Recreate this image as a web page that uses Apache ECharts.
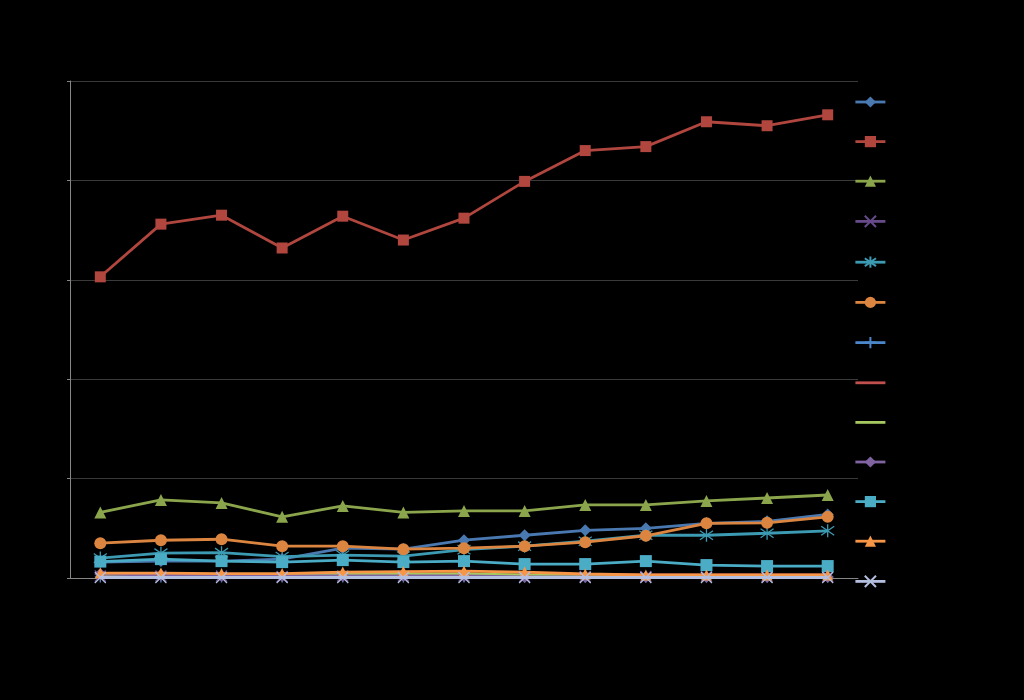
<!DOCTYPE html>
<html>
<head>
<meta charset="utf-8">
<script src="https://cdn.jsdelivr.net/npm/echarts@6/dist/echarts.min.js"></script>
<style>
html,body{margin:0;padding:0;background:#000;}
#chart{width:1024px;height:700px;}
</style>
</head>
<body>
<div id="chart"></div>
<script>
// Categories (labels are drawn in black on black in the reference, so they are not readable)
var categories = ['2000','2001','2002','2003','2004','2005','2006','2007','2008','2009','2010','2011','2012'];
var yTicks = [0, 100, 200, 300, 400, 500];

var seriesNames = ['Series 1','Series 2','Series 3','Series 4','Series 5','Series 6','Series 7','Series 8','Series 9','Series 10','Series 11','Series 12','Series 13'];

var s1  = [16, 17, 17, 19, 30, 29, 38, 43, 48, 50, 55, 57, 64];
var s2  = [303, 356, 365, 332, 364, 340, 362, 399, 430, 434, 459, 455, 466];
var s3  = [66, 78.5, 75.5, 61.5, 72.5, 66, 67.5, 67.5, 73.5, 73.5, 77.5, 80.5, 83.5];
var s4  = [2, 2, 2, 1.5, 2, 2, 2, 1.5, 1.5, 1.5, 1.5, 1.5, 1.5];
var s5  = [20, 25, 25.5, 21.5, 23, 22, 28.5, 32, 37, 43, 43, 45, 47.5];
var s6  = [35, 38, 39, 32, 32, 29, 30, 32, 36, 42.5, 55, 55.5, 61.5];
var s7  = [1, 1, 1, 1, 1, 1, 1, 1, 1, 1, 1, 1, 1];
var s8  = [3, 3, 3, 3, 3, 3, 3, 3, 3, 3, 3, 3, 3];
var s9  = [2, 2, 2, 2, 4, 4, 4, 3, 2, 2, 2, 2, 2];
var s10 = [4, 3, 2, 2, 2, 2, 2, 1, 1, 1, 1, 1, 1];
var s11 = [16.5, 19, 17, 16, 18, 16, 17, 14, 14, 17, 13, 12, 12];
var s12 = [5, 5, 4.5, 4.5, 6, 6.5, 7, 6, 4, 3, 3, 3, 3];
var s13 = [0.5, 0.5, 0.5, 0.5, 0.5, 0.5, 0.5, 0.5, 0.5, 0.5, 0.5, 0.5, 0.5];

var allData = [s1,s2,s3,s4,s5,s6,s7,s8,s9,s10,s11,s12,s13];
var colors = ['#4a78b0','#b1463f','#8ba54c','#674a8a','#3c9bb3','#db8540','#4a86c8','#c0504d','#a5c861','#8064a2','#4bacc6','#f79646','#b4bfe0'];

var X_PATH = 'path://M0,0 L20,20 M20,0 L0,20';
var AST_PATH = 'path://M10,0 L10,20 M1,3 L19,17 M19,3 L1,17';
var PLUS_PATH = 'path://M10,0 L10,20 M0,10 L20,10';
var DOT_PATH = 'path://M0,0 L1,0 L1,1 L0,1 Z';

var symbolDefs = [
  {symbol:'diamond', size:12, stroke:false},
  {symbol:'rect', size:11, stroke:false},
  {symbol:'triangle', size:12, stroke:false},
  {symbol:X_PATH, size:11, stroke:true},
  {symbol:AST_PATH, size:13, stroke:true},
  {symbol:'circle', size:12, stroke:false},
  {symbol:PLUS_PATH, size:11, stroke:true},
  {symbol:DOT_PATH, size:1, stroke:false, none:true},
  {symbol:DOT_PATH, size:1, stroke:false, none:true},
  {symbol:'diamond', size:12, stroke:false},
  {symbol:'rect', size:12, stroke:false},
  {symbol:'triangle', size:11, stroke:false},
  {symbol:X_PATH, size:11, stroke:true}
];

var series = allData.map(function(d, i){
  var sd = symbolDefs[i];
  var itemStyle = {color: colors[i]};
  if (sd.stroke) {
    itemStyle = {color: 'rgba(0,0,0,0)', borderColor: colors[i], borderWidth: 1.3};
  }
  if (sd.none) {
    itemStyle = {color: 'rgba(0,0,0,0)', borderColor: 'rgba(0,0,0,0)', borderWidth: 0};
  }
  return {
    name: seriesNames[i],
    type: 'line',
    data: d,
    symbol: sd.symbol,
    symbolSize: sd.size,
    showSymbol: !sd.none,
    lineStyle: {color: colors[i], width: 2.8},
    itemStyle: itemStyle,
    z: 2 + i,
    animation: false
  };
});

var chart = echarts.init(document.getElementById('chart'));
chart.setOption({
  backgroundColor: '#000000',
  animation: false,
  grid: {left: 70, right: 166, top: 81, bottom: 122, containLabel: false},
  legend: {
    orient: 'vertical',
    left: 849,
    top: 91,
    itemWidth: 30,
    itemHeight: 14,
    itemGap: 27.6,
    lineStyle: {width: 2.8},
    textStyle: {color: '#000000', fontSize: 12},
    data: seriesNames
  },
  xAxis: {
    type: 'category',
    data: categories,
    boundaryGap: true,
    axisLine: {lineStyle: {color: '#868686', width: 1}},
    axisTick: {show: false},
    axisLabel: {color: '#000000'}
  },
  yAxis: {
    type: 'value',
    min: yTicks[0],
    max: yTicks[yTicks.length - 1],
    interval: 100,
    axisLine: {show: true, lineStyle: {color: '#868686', width: 1}},
    axisTick: {show: true, length: 3, lineStyle: {color: '#868686'}},
    axisLabel: {color: '#000000'},
    splitLine: {lineStyle: {color: '#3a3a3a', width: 1}}
  },
  series: series
});
</script>
</body>
</html>
